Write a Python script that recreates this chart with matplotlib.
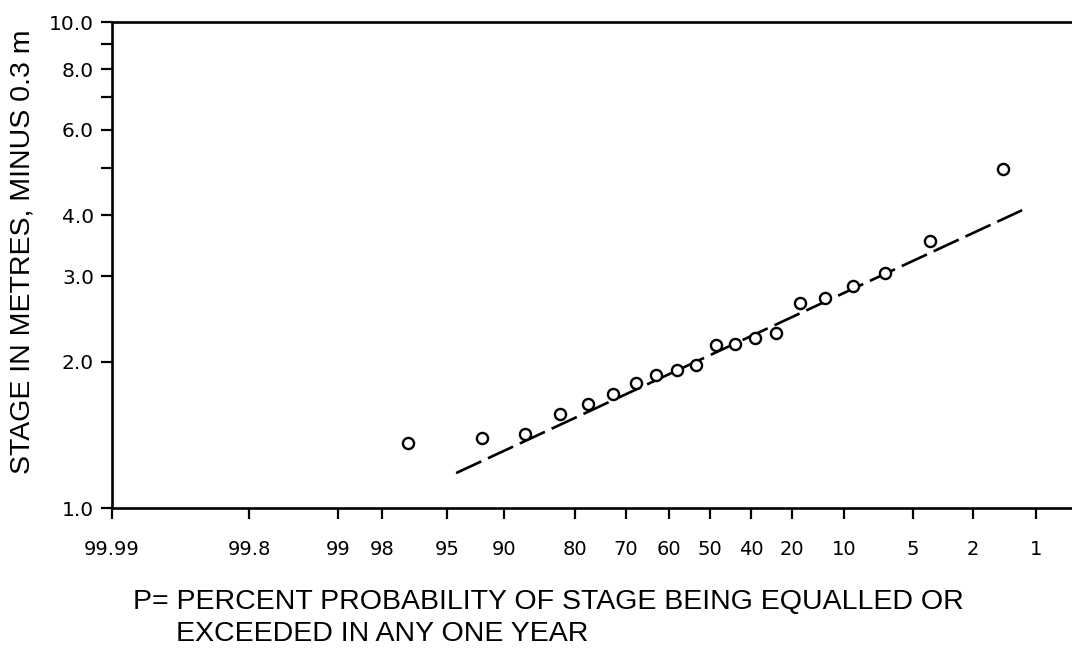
import numpy as np
import matplotlib
matplotlib.use("Agg")
import matplotlib.pyplot as plt
from matplotlib.ticker import FixedLocator, NullFormatter

# probability paper: tick positions along the x axis (pixels from the left edge)
p_ticks = [99.99, 99.8, 99, 98, 95, 90, 80, 70, 60, 50, 40, 20, 10, 5, 2, 1]
p_labels = ["99.99", "99.8", "99", "98", "95", "90", "80", "70", "60", "50",
            "40", "20", "10", "5", "2", "1"]
p_pos = [112, 249, 338, 382, 447, 504, 575, 626, 669, 710, 751, 792, 844,
         913, 973, 1036]
p_edge, pos_edge = 0.43, 1072

# annual maximum stages (plotted at exceedance probability P)
obs_p = [96.8, 91.9, 87.0, 82.1, 77.5, 72.5, 67.7, 63.0, 58.0, 53.4,
         48.5, 43.9, 38.0, 27.8, 18.5, 13.7, 9.35, 7.0, 4.15, 1.52]
obs_stage = [1.36, 1.39, 1.42, 1.56, 1.64, 1.72, 1.81, 1.88, 1.92, 1.97,
             2.16, 2.18, 2.24, 2.29, 2.64, 2.70, 2.86, 3.05, 3.54, 4.99]

# fitted frequency line
fit_p = [94.2, 1.22]
fit_stage = [1.18, 4.10]

y_major = [1, 2, 3, 4, 6, 8, 10]
y_minor = [5, 7, 9]

xp = -np.array(p_ticks + [p_edge])
fp = np.array(p_pos + [pos_edge], dtype=float)


# increasing in P, so the (99.99 -> 1) limits run left to right
def fwd(p):
    return -np.interp(-np.asarray(p, dtype=float), xp, fp)


def inv(u):
    return -np.interp(-np.asarray(u, dtype=float), fp, xp)


W, H = 1072, 648
fig = plt.figure(figsize=(W / 100, H / 100), dpi=100)
ax = fig.add_axes([112 / W, 1 - 508 / H, (W - 112) / W, (508 - 22) / H])

ax.set_xscale("function", functions=(fwd, inv))
ax.set_yscale("log")
ax.set_xlim(99.99, p_edge)
ax.set_ylim(1, 10)

ax.plot(fit_p, fit_stage, color="black", lw=1.9,
        linestyle=(0, (10.5, 2.8)), solid_capstyle="butt")
ax.plot(obs_p, obs_stage, "o", ms=8, mfc="white", mec="black", mew=1.7,
        clip_on=False)

ax.xaxis.set_major_locator(FixedLocator(p_ticks))
ax.set_xticklabels(p_labels)
ax.xaxis.set_minor_locator(FixedLocator([]))
ax.yaxis.set_major_locator(FixedLocator(y_major))
ax.set_yticklabels(["%.1f" % v for v in y_major])
ax.yaxis.set_minor_locator(FixedLocator(y_minor))
ax.yaxis.set_minor_formatter(NullFormatter())

for s in ["left", "bottom", "top"]:
    ax.spines[s].set_linewidth(1.9)
ax.spines["right"].set_visible(False)

ax.tick_params(axis="x", which="major", direction="out", length=8, width=1.6,
               pad=15, labelsize=14, labelfontfamily="DejaVu Sans")
ax.tick_params(axis="y", which="both", direction="out", length=8, width=1.6,
               pad=5, labelsize=14.5, labelfontfamily="DejaVu Sans")

fig.text(23 / W, 1 - 252 / H, "STAGE IN METRES, MINUS 0.3 m",
         rotation=90, ha="center", va="center", fontsize=20.5,
         family="Liberation Sans")
fig.text(133 / W, 1 - 609 / H,
         "P= PERCENT PROBABILITY OF STAGE BEING EQUALLED OR",
         ha="left", va="baseline", fontsize=20.5, family="Liberation Sans")
fig.text(176 / W, 1 - 641 / H, "EXCEEDED IN ANY ONE YEAR",
         ha="left", va="baseline", fontsize=20.5, family="Liberation Sans")

fig.savefig("out.png", dpi=100)
